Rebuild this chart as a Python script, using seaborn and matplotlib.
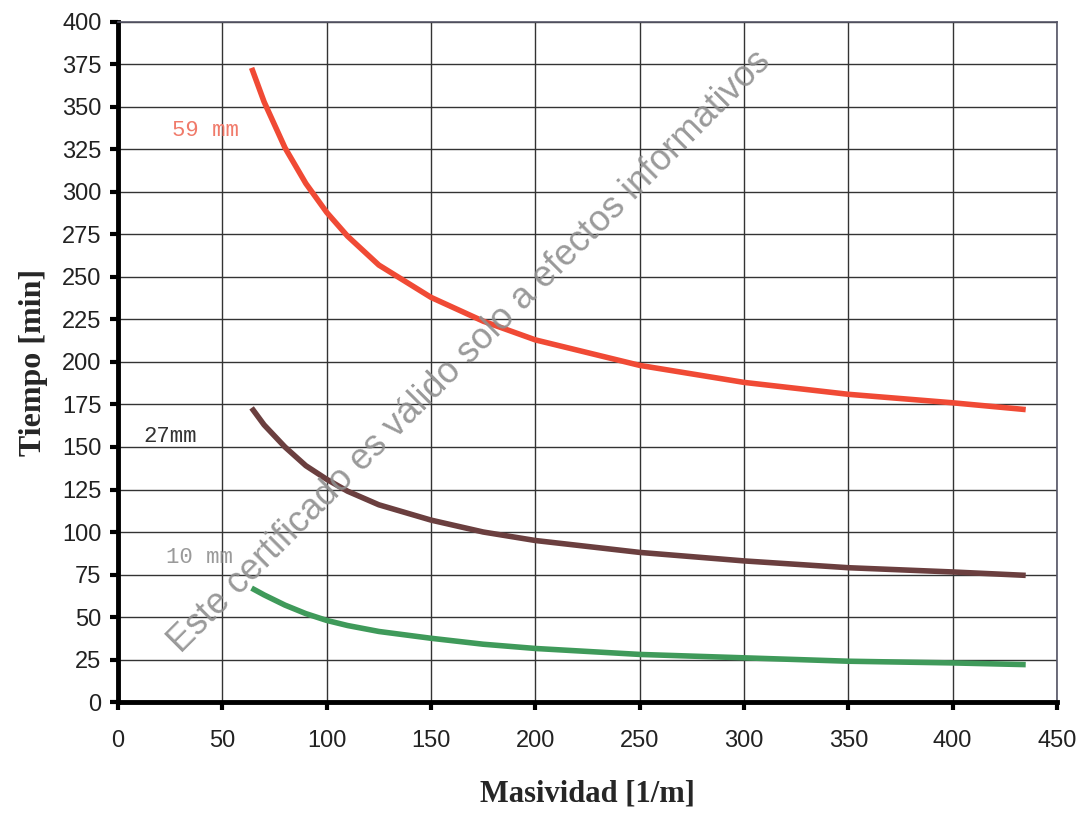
import matplotlib
matplotlib.use("Agg")
import matplotlib.pyplot as plt
import seaborn as sns
import pandas as pd

# Data
masividad = [64, 70, 80, 90, 100, 110, 125, 150, 175, 200, 250, 300, 350, 400, 435]
t_59mm = [373, 353, 326, 305, 288, 274, 257, 238, 224, 213, 198, 188, 181, 176, 172]
t_27mm = [173, 163, 150, 139, 131, 124, 116, 107, 100, 95, 88, 83, 79, 76.5, 74.5]
t_10mm = [67, 63, 57, 52, 48, 45, 41.5, 37.5, 34, 31.5, 28, 26, 24, 23, 22]
series_names = ["59 mm", "27mm", "10 mm"]
series_colors = ["#f04a35", "#6b3f3f", "#3f9a5a"]
label_colors = ["#f07a6a", "#333333", "#9a9a9a"]
label_pos = [(42, 336), (25, 156), (39, 85)]
x_ticks = list(range(0, 451, 50))
y_ticks = list(range(0, 401, 25))

sns.set_theme(style="white")
plt.rcParams['font.family'] = ['Liberation Sans', 'DejaVu Sans']

fig = plt.figure(figsize=(10.83, 8.13), dpi=100)
ax = fig.add_axes([0.109, 0.1365, 0.867, 0.8365])

for name, vals, col in zip(series_names, [t_59mm, t_27mm, t_10mm], series_colors):
    df = pd.DataFrame({"x": masividad, "y": vals})
    sns.lineplot(data=df, x="x", y="y", ax=ax, color=col, linewidth=4, zorder=3,
                 solid_joinstyle='round', solid_capstyle='butt')

for name, (lx, ly), c in zip(series_names, label_pos, label_colors):
    ax.text(lx, ly, name, color=c, fontsize=16, family=['Liberation Mono', 'DejaVu Sans Mono'],
            ha='center', va='center', zorder=4)

ax.set_xlim(0, 450)
ax.set_ylim(0, 400)
ax.set_xticks(x_ticks)
ax.set_yticks(y_ticks)
ax.grid(True, color="#333333", linewidth=1.0)
ax.set_axisbelow(True)

for s in ['top', 'right']:
    ax.spines[s].set_color('#555566')
    ax.spines[s].set_linewidth(1.2)
for s in ['left', 'bottom']:
    ax.spines[s].set_color('black')
    ax.spines[s].set_linewidth(3.5)

ax.tick_params(axis='both', which='both', direction='out', length=6, width=3,
               color='black', labelsize=17, labelcolor='#222222', pad=6,
               bottom=True, left=True)
ax.tick_params(axis='x', pad=14)

ax.set_xlabel("Masividad [1/m]", fontsize=22, fontweight='bold',
              family=['Liberation Serif', 'DejaVu Serif'], labelpad=20)
ax.set_ylabel("Tiempo [min]", fontsize=23, fontweight='bold',
              family=['Liberation Serif', 'DejaVu Serif'], labelpad=10)

ax.text(0.375, 0.515, "Este certificado es válido solo a efectos informativos",
        transform=ax.transAxes, rotation=45, fontsize=26, color='#8f8f8f',
        alpha=0.9, ha='center', va='center', rotation_mode='anchor', zorder=5)

fig.savefig("out.png", dpi=100)
